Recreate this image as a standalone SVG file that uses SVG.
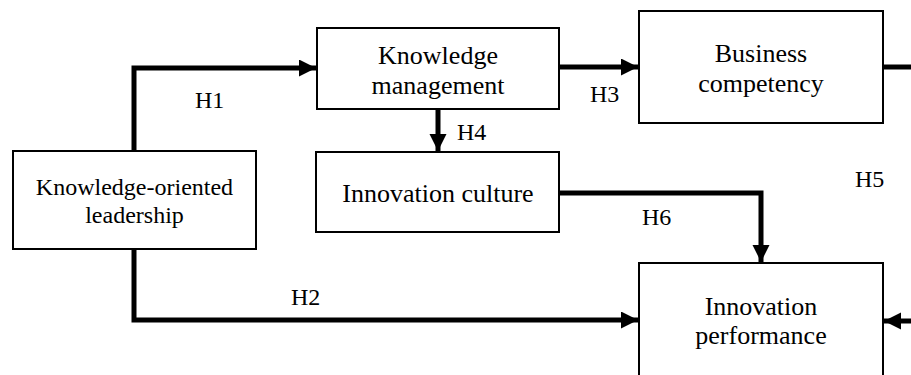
<svg xmlns="http://www.w3.org/2000/svg" width="911" height="375" viewBox="0 0 911 375">
<style>
.box{fill:#fff;stroke:#000;stroke-width:2}
.t{font-family:"Liberation Serif","Times New Roman",serif;font-size:26px;fill:#000;text-anchor:middle}
.s{font-size:24px}
.h{font-family:"Liberation Serif","Times New Roman",serif;font-size:24px;fill:#000}
.c{fill:none;stroke:#000;stroke-width:5;stroke-linejoin:miter}
</style>
<defs>
<marker id="ah" markerUnits="userSpaceOnUse" markerWidth="18" markerHeight="18" refX="17" refY="8.5" orient="auto">
<path d="M0,0 L17,8.5 L0,17 z" fill="#000"/>
</marker>
</defs>
<rect width="911" height="375" fill="#fff"/>
<g id="connectors">
<path class="c" d="M134,151 V68 H316" marker-end="url(#ah)"/>
<path class="c" d="M134,249 V320 H638" marker-end="url(#ah)"/>
<path class="c" d="M559,67 H638" marker-end="url(#ah)"/>
<path class="c" d="M438,109 V151" marker-end="url(#ah)"/>
<path class="c" d="M559,193 H761 V262" marker-end="url(#ah)"/>
<path class="c" d="M883,67 H915"/>
<path class="c" d="M915,321 H884" marker-end="url(#ah)"/>
</g>
<g id="kol">
<rect class="box" x="13" y="151" width="243" height="98"/>
<text class="t s" x="134.5" y="195">Knowledge-oriented</text>
<text class="t s" x="134.5" y="223">leadership</text>
</g>
<g id="km">
<rect class="box" x="317" y="28" width="242" height="81"/>
<text class="t" x="438" y="64">Knowledge</text>
<text class="t" x="438" y="94">management</text>
</g>
<g id="ic">
<rect class="box" x="316" y="152" width="243" height="80"/>
<text class="t" x="438" y="202">Innovation culture</text>
</g>
<g id="bc">
<rect class="box" x="639" y="11" width="244" height="112"/>
<text class="t" x="761" y="62">Business</text>
<text class="t" x="761" y="92">competency</text>
</g>
<g id="ip">
<rect class="box" x="639" y="263" width="244" height="140"/>
<text class="t" x="761" y="315">Innovation</text>
<text class="t" x="761" y="344">performance</text>
</g>
<g id="labels">
<text class="h" x="195" y="108">H1</text>
<text class="h" x="291" y="305">H2</text>
<text class="h" x="590" y="102">H3</text>
<text class="h" x="457" y="140">H4</text>
<text class="h" x="855" y="187">H5</text>
<text class="h" x="642" y="225">H6</text>
</g>
</svg>
